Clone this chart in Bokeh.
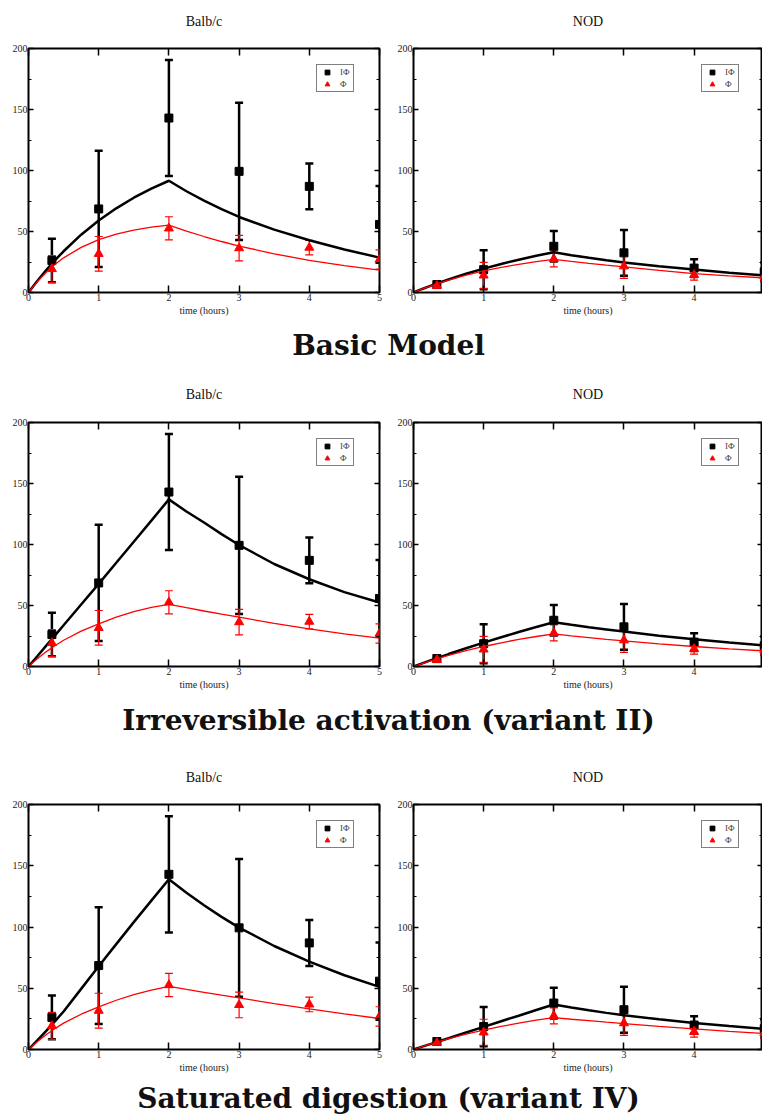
import numpy as np
from bokeh.plotting import figure
from bokeh.models import (ColumnDataSource, Whisker, TeeHead, Legend, LegendItem,
                          LinearAxis, SingleIntervalTicker, Range1d)
from bokeh.layouts import column, row
from bokeh.embed import file_html
from bokeh.resources import INLINE
from bokeh.core.properties import value

# ---------------- data ----------------
t_obs = [1/3, 1, 2, 3, 4, 5]

balb_I_mean = [26.2, 68.5, 143.0, 99.3, 87.0, 55.8]
balb_I_err = [17.8, 47.6, 47.5, 56.3, 18.8, 31.5]
balb_P_mean = [19.3, 31.7, 52.6, 36.4, 36.8, 27.0]
balb_P_err = [11.0, 14.2, 9.5, 10.5, 6.0, 7.9]

nod_I_mean = [6.5, 18.7, 37.9, 32.5, 20.0, 17.0]
nod_I_err = [2.5, 16.0, 12.5, 18.8, 7.2, 7.5]
nod_P_mean = [5.5, 14.0, 27.5, 21.5, 14.5, 13.5]
nod_P_err = [2.0, 10.7, 6.5, 10.0, 4.4, 4.0]

t_model = [0, 0.125, 0.25, 0.375, 0.5, 0.75, 1, 1.25, 1.5, 1.75, 2,
           2.25, 2.5, 2.75, 3, 3.5, 4, 4.5, 5]

basic_balb_I = [0, 9.4, 18.2, 26.3, 33.8, 47.4, 59.0, 69.0, 77.7, 85.2, 91.6,
                83.0, 75.3, 68.3, 61.9, 51.5, 42.8, 35.3, 28.6]
basic_balb_P = [0, 8.9, 16.4, 22.9, 28.4, 37.0, 43.3, 47.9, 51.2, 53.6, 55.3,
                50.4, 45.9, 41.8, 38.1, 31.7, 26.4, 22.0, 18.3]
basic_nod_I = [0, 2.9, 5.6, 8.2, 10.7, 15.4, 19.6, 23.4, 26.9, 30.1, 33.0,
               30.6, 28.4, 26.4, 24.5, 21.5, 18.8, 16.2, 13.9]
basic_nod_P = [0, 2.9, 5.5, 7.9, 10.2, 14.2, 17.7, 20.6, 23.1, 25.3, 27.2,
               25.5, 23.9, 22.4, 21.0, 18.1, 15.5, 13.6, 12.0]

irr_balb_I = [0, 8.4, 16.9, 25.3, 33.8, 50.8, 67.7, 85.0, 102.3, 119.6, 137.0,
              127.0, 118.0, 108.5, 99.6, 84.0, 71.5, 61.0, 52.4]
irr_balb_P = [0, 6.3, 12.0, 17.0, 21.5, 29.0, 35.0, 40.5, 45.0, 48.5, 51.0,
              48.2, 45.5, 42.9, 40.4, 35.3, 30.8, 26.8, 23.2]
irr_nod_I = [0, 2.6, 5.2, 7.7, 10.2, 15.0, 19.6, 24.0, 28.3, 32.4, 36.3,
             34.2, 32.2, 30.4, 28.6, 25.3, 22.4, 19.7, 17.3]
irr_nod_P = [0, 2.4, 4.8, 7.0, 9.2, 13.0, 16.4, 19.4, 22.2, 24.6, 26.7,
             25.1, 23.7, 22.3, 21.0, 18.5, 16.4, 14.5, 12.8]

sat_balb_I = [0, 7.4, 15.0, 22.9, 31.0, 49.5, 68.0, 86.0, 104.0, 121.5, 139.0,
              128.0, 117.7, 108.3, 99.5, 84.5, 71.7, 60.6, 51.1]
sat_balb_P = [0, 6.3, 12.0, 17.0, 21.5, 28.8, 34.8, 40.2, 44.8, 48.5, 51.6,
              49.1, 46.7, 44.3, 42.1, 37.5, 33.2, 29.1, 25.3]
sat_nod_I = [0, 2.3, 4.6, 6.9, 9.2, 13.9, 18.5, 23.1, 27.6, 32.2, 36.7,
             34.2, 32.0, 29.9, 28.0, 24.6, 21.7, 19.1, 16.8]
sat_nod_P = [0, 2.3, 4.6, 6.7, 8.8, 12.5, 15.8, 18.8, 21.5, 23.9, 26.1,
             24.7, 23.5, 22.3, 21.2, 18.9, 16.8, 14.8, 13.0]

strain_titles = ["Balb/c", "NOD"]
row_titles = ["Basic Model", "Irreversible activation (variant II)", "Saturated digestion (variant IV)"]
legend_labels = ["I\u03a6", "\u03a6"]
x_label = "time (hours)"

SERIF = "Liberation Serif"
PAGE_W = 762


def style_axis(ax, interval, minor, tick_in, minor_in, labels=True):
    ax.ticker = SingleIntervalTicker(interval=interval, num_minor_ticks=minor)
    ax.axis_line_color = None
    ax.major_tick_in = tick_in
    ax.major_tick_out = 0
    ax.minor_tick_in = minor_in
    ax.minor_tick_out = 0
    ax.major_tick_line_color = "black"
    ax.minor_tick_line_color = "black"
    ax.major_tick_line_width = 1.5
    ax.minor_tick_line_width = 1.2
    ax.major_label_text_font = SERIF
    if labels:
        ax.major_label_text_color = "#222222"
        ax.major_label_text_font_size = "10px"
        ax.major_label_standoff = 1
    else:
        ax.major_label_text_color = None
        ax.major_label_text_alpha = 0
        ax.major_label_text_font_size = "1px"
        ax.major_label_standoff = 0


def panel(is_left, frame_h, model_I, model_P, I_mean, I_err, P_mean, P_err):
    if is_left:
        width, bl, br, x_end = 386, 28, 7, 5.0
    else:
        width, bl, br, x_end = 376, 27, 0, 4.975
    bt, bb = 5, 27
    height = bt + frame_h + bb
    p = figure(width=width, height=height, x_range=Range1d(0, x_end), y_range=Range1d(0, 200),
               toolbar_location=None, output_backend="svg",
               min_border_left=bl, min_border_right=br, min_border_top=bt,
               min_border_bottom=bb)
    p.grid.visible = False
    p.outline_line_color = "black"
    p.outline_line_width = 2
    p.background_fill_color = "white"
    p.border_fill_color = "white"

    style_axis(p.xaxis[0], 1, 0, 7, 0)
    style_axis(p.yaxis[0], 50, 2, 5, 3)
    p.xaxis[0].axis_label = x_label
    p.xaxis[0].axis_label_text_font = SERIF
    p.xaxis[0].axis_label_text_font_size = "10px"
    p.xaxis[0].axis_label_text_font_style = "normal"
    p.xaxis[0].axis_label_text_color = "#222222"
    p.xaxis[0].axis_label_standoff = 1

    top = LinearAxis()
    style_axis(top, 1, 0, 7, 0, labels=False)
    p.add_layout(top, "above")
    right = LinearAxis()
    style_axis(right, 50, 2, 5, 3, labels=False)
    p.add_layout(right, "right")

    src_I = ColumnDataSource(dict(x=t_obs, y=I_mean,
                                  upper=np.array(I_mean) + np.array(I_err),
                                  lower=np.array(I_mean) - np.array(I_err)))
    src_P = ColumnDataSource(dict(x=t_obs, y=P_mean,
                                  upper=np.array(P_mean) + np.array(P_err),
                                  lower=np.array(P_mean) - np.array(P_err)))

    p.add_layout(Whisker(source=src_I, base="x", upper="upper", lower="lower",
                         line_color="black", line_width=2.5,
                         upper_head=TeeHead(size=8, line_color="black", line_width=2.5),
                         lower_head=TeeHead(size=8, line_color="black", line_width=2.5)))
    p.add_layout(Whisker(source=src_P, base="x", upper="upper", lower="lower",
                         line_color="red", line_width=1.2,
                         upper_head=TeeHead(size=8, line_color="red", line_width=1.2),
                         lower_head=TeeHead(size=8, line_color="red", line_width=1.2)))

    p.line(t_model, model_I, line_color="black", line_width=2.5)
    r_sq = p.scatter("x", "y", source=src_I, marker="square", size=8,
                     fill_color="black", line_color="black")
    p.line(t_model, model_P, line_color="red", line_width=1.3)
    r_tri = p.scatter("x", "y", source=src_P, marker="triangle", size=9,
                      fill_color="red", line_color="red")

    leg_h = 26
    leg = Legend(items=[LegendItem(label=legend_labels[0], renderers=[r_sq]),
                        LegendItem(label=legend_labels[1], renderers=[r_tri])],
                 location=(288, frame_h - 18 - leg_h))
    leg.border_line_color = "black"
    leg.border_line_width = 1
    leg.background_fill_color = "white"
    leg.background_fill_alpha = 1
    leg.label_text_font = SERIF
    leg.label_text_font_size = "9px"
    leg.label_height = 10
    leg.label_width = 12
    leg.glyph_height = 12
    leg.glyph_width = 18
    leg.label_standoff = 4
    leg.padding = 1
    leg.spacing = 0
    leg.margin = 0
    p.add_layout(leg)
    return p


def text_fig(h, xs, y, texts, font, size, style):
    p = figure(width=PAGE_W, height=h, x_range=Range1d(0, PAGE_W), y_range=Range1d(0, h),
               toolbar_location=None, output_backend="svg", min_border=0,
               x_axis_type=None, y_axis_type=None)
    p.grid.visible = False
    p.outline_line_color = None
    p.text(x=xs, y=[y] * len(xs), text=texts, text_align="center", text_baseline="middle",
           text_font=value(font), text_font_style=style, text_font_size=size,
           text_color="#111111")
    return p


models = [(basic_balb_I, basic_balb_P, basic_nod_I, basic_nod_P),
          (irr_balb_I, irr_balb_P, irr_nod_I, irr_nod_P),
          (sat_balb_I, sat_balb_P, sat_nod_I, sat_nod_P)]
frame_hs = [244, 244, 245]
header_hs = [43, 43, 49]
header_ys = [22, 23, 22]
title_hs = [55, 57, 42]
title_ys = [29, 30, 20]
strain_x = [203.5, 587.5]

items = []
for i, (bI, bP, nI, nP) in enumerate(models):
    items.append(text_fig(header_hs[i], strain_x, header_ys[i], strain_titles,
                          SERIF, "14px", "normal"))
    left = panel(True, frame_hs[i], bI, bP,
                 balb_I_mean, balb_I_err, balb_P_mean, balb_P_err)
    right = panel(False, frame_hs[i], nI, nP,
                  nod_I_mean, nod_I_err, nod_P_mean, nod_P_err)
    items.append(row(left, right))
    items.append(text_fig(title_hs[i], [388], title_ys[i], [row_titles[i]],
                          "DejaVu Serif", "28px", "bold"))

layout = column(*items)
open("out.html", "w").write(file_html(layout, INLINE))
